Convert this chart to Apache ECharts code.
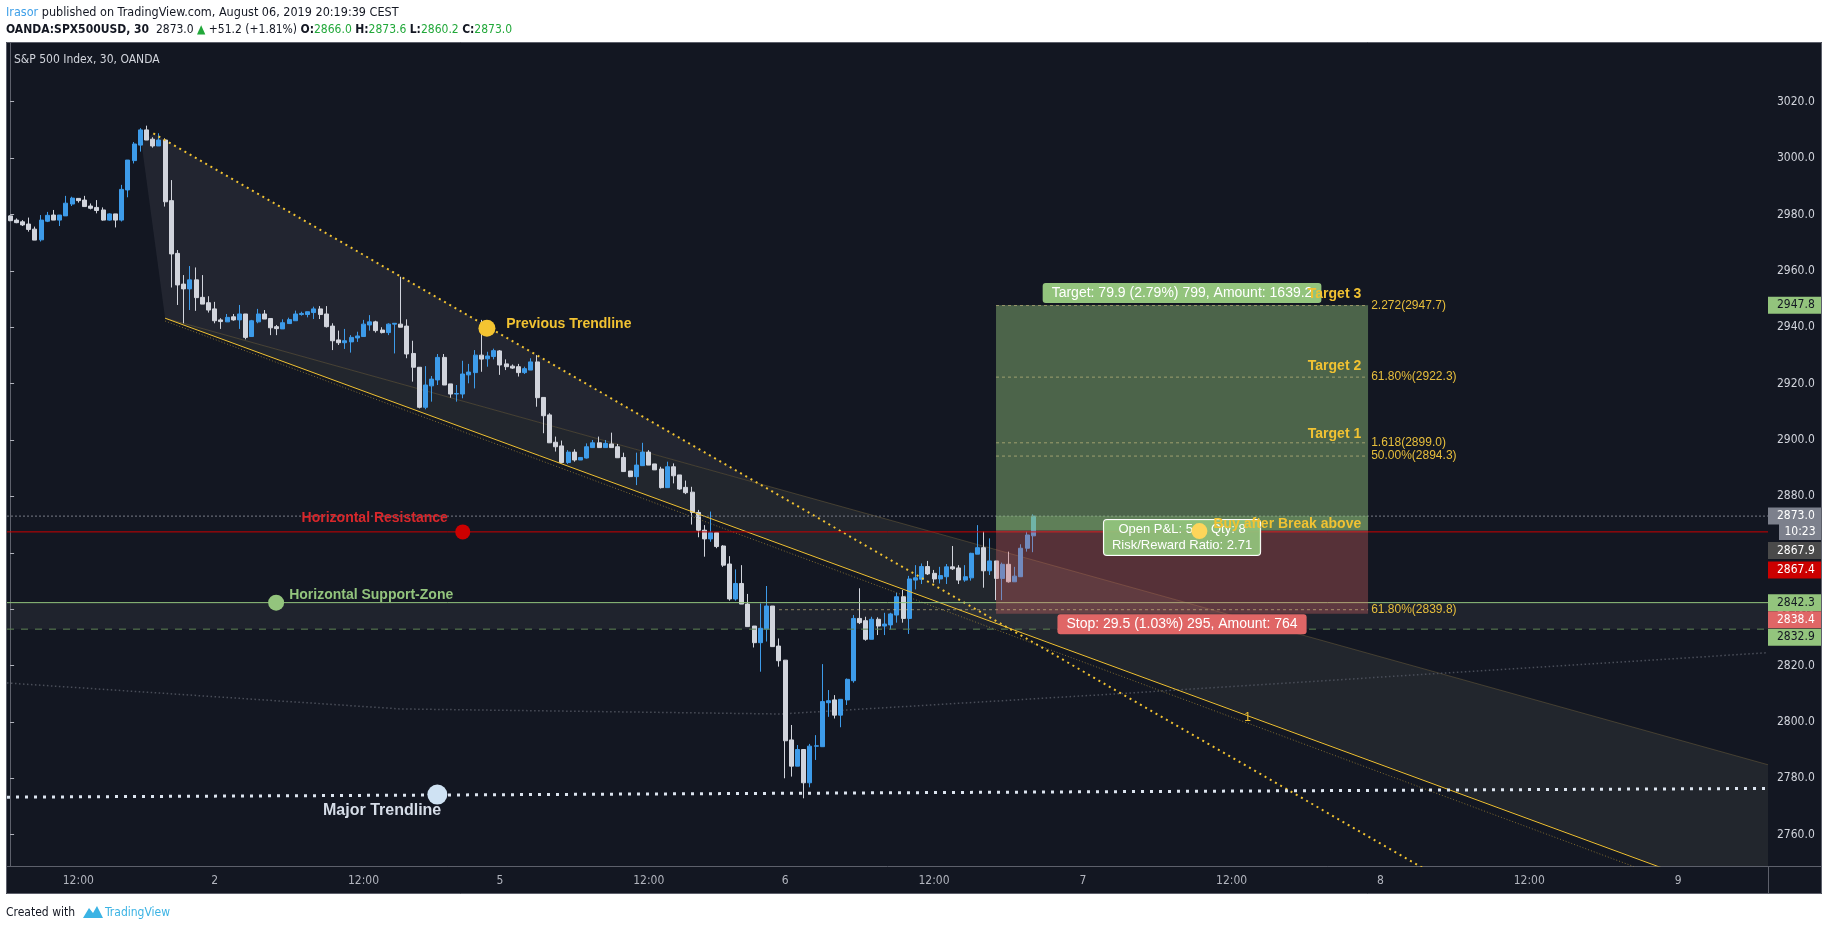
<!DOCTYPE html>
<html>
<head>
<meta charset="utf-8">
<title>S&amp;P 500 Index, 30, OANDA</title>
<script src="https://cdn.jsdelivr.net/npm/echarts/dist/echarts.min.js"></script>
<style>
  html, body { margin: 0; padding: 0; background: #ffffff; }
  #chart { width: 1828px; height: 930px; }
</style>
</head>
<body>
<div id="chart"></div>
<script>
// 30 minute bar slots, first slot = Aug 1 06:30 CEST
const slotCount = 284;
const categories = Array.from({ length: slotCount }, (_, i) => 'slot' + i);
const xTickIdx  = [11, 33, 57, 79, 103, 125, 149, 173, 197, 221, 245, 269];
const xTickText = ['12:00', '2', '12:00', '5', '12:00', '6', '12:00', '7', '12:00', '8', '12:00', '9'];
const yTicks = [2760, 2780, 2800, 2820, 2840, 2860, 2880, 2900, 2920, 2940, 2960, 2980, 3000, 3020];
const yMin = 2748.88, yMax = 3041.18;

// OHLC of the 166 candles
const opens = [
  2979.5, 2978.0, 2977.4, 2976.6, 2974.8, 2971.0, 2977.6, 2979.8, 2978.0, 2979.5,
  2983.7, 2985.7, 2985.1, 2983.0, 2982.5, 2981.6, 2978.0, 2980.2, 2978.0, 2988.7,
  2999.1, 3004.6, 3010.0, 3006.7, 3004.3, 3006.4, 2984.9, 2966.2, 2955.3, 2953.6,
  2956.8, 2950.6, 2948.7, 2946.5, 2942.6, 2941.9, 2943.7, 2942.6, 2944.7, 2936.7,
  2941.9, 2944.7, 2943.1, 2940.2, 2939.4, 2941.3, 2942.3, 2944.5, 2944.5, 2945.2,
  2946.5, 2944.7, 2940.4, 2935.5, 2934.5, 2934.8, 2936.2, 2936.7, 2940.8, 2941.9,
  2939.0, 2938.1, 2941.1, 2941.1, 2940.4, 2930.7, 2925.8, 2911.6, 2919.2, 2921.3,
  2929.3, 2919.9, 2916.3, 2916.3, 2923.1, 2923.9, 2930.1, 2928.8, 2929.6, 2931.6,
  2927.0, 2926.2, 2926.0, 2923.9, 2924.8, 2927.7, 2915.1, 2908.9, 2899.2, 2897.9,
  2892.0, 2895.7, 2892.9, 2893.6, 2897.3, 2899.0, 2897.3, 2898.6, 2897.6, 2893.8,
  2889.0, 2887.0, 2890.9, 2895.7, 2891.5, 2889.7, 2883.1, 2890.5, 2887.6, 2883.2,
  2881.5, 2874.3, 2868.0, 2864.9, 2867.1, 2862.4, 2856.0, 2843.6, 2849.1, 2841.8,
  2834.0, 2828.1, 2832.9, 2841.1, 2826.9, 2821.9, 2793.6, 2784.3, 2790.2, 2778.4,
  2791.4, 2791.2, 2806.8, 2807.8, 2802.4, 2807.8, 2814.6, 2836.7, 2835.9, 2829.3,
  2836.4, 2834.0, 2834.4, 2837.9, 2844.4, 2836.7, 2850.3, 2850.6, 2855.1, 2852.7,
  2850.7, 2851.5, 2855.0, 2854.6, 2850.3, 2851.1, 2859.5, 2861.8, 2853.6, 2857.1,
  2850.9, 2855.9, 2849.7, 2851.5, 2861.6, 2866.0
];
const closes = [
  2977.8, 2977.1, 2976.3, 2974.7, 2970.9, 2978.0, 2979.7, 2978.0, 2979.8, 2984.0,
  2985.8, 2984.9, 2982.8, 2982.2, 2981.4, 2978.0, 2980.2, 2978.0, 2988.9, 2999.3,
  3005.0, 3010.0, 3006.4, 3004.3, 3006.4, 2984.5, 2966.0, 2955.0, 2953.6, 2956.8,
  2950.5, 2948.2, 2946.1, 2942.3, 2942.0, 2943.5, 2942.6, 2944.7, 2936.4, 2942.3,
  2944.7, 2942.9, 2939.8, 2939.5, 2941.6, 2942.7, 2944.7, 2944.9, 2945.5, 2946.5,
  2944.5, 2940.2, 2935.2, 2934.5, 2935.2, 2936.4, 2936.9, 2941.1, 2941.9, 2938.8,
  2938.1, 2941.1, 2941.4, 2940.0, 2930.5, 2925.8, 2911.6, 2919.5, 2921.6, 2929.3,
  2919.5, 2916.3, 2916.5, 2923.4, 2924.1, 2930.1, 2928.7, 2929.8, 2931.7, 2926.6,
  2926.0, 2925.5, 2923.9, 2925.3, 2927.7, 2915.0, 2908.6, 2899.0, 2897.6, 2892.0,
  2895.7, 2892.9, 2893.8, 2897.6, 2899.0, 2897.3, 2898.8, 2897.3, 2893.7, 2888.8,
  2887.0, 2891.1, 2895.7, 2891.1, 2889.4, 2883.1, 2890.5, 2887.3, 2882.6, 2881.3,
  2874.3, 2868.0, 2864.9, 2867.1, 2862.2, 2855.6, 2843.6, 2849.1, 2841.8, 2833.8,
  2828.1, 2833.2, 2841.1, 2826.7, 2821.7, 2793.3, 2784.3, 2790.2, 2778.4, 2791.4,
  2791.5, 2807.2, 2807.5, 2802.4, 2808.0, 2815.1, 2836.7, 2835.2, 2829.3, 2836.4,
  2834.0, 2834.7, 2838.3, 2844.4, 2836.7, 2850.7, 2851.1, 2855.1, 2852.5, 2850.7,
  2851.9, 2855.0, 2854.3, 2850.3, 2851.5, 2859.8, 2861.8, 2853.6, 2857.1, 2850.9,
  2855.9, 2849.7, 2851.7, 2861.6, 2866.3, 2873.0
];
const lows = [
  2977.6, 2976.9, 2975.9, 2973.9, 2970.9, 2970.4, 2977.3, 2978.0, 2975.9, 2979.5,
  2983.0, 2984.2, 2982.8, 2981.8, 2980.4, 2977.8, 2977.8, 2975.4, 2977.5, 2986.1,
  2998.1, 3002.3, 3006.4, 3003.7, 3004.3, 2982.8, 2954.1, 2947.9, 2941.4, 2946.1,
  2945.8, 2948.2, 2945.2, 2941.4, 2939.4, 2941.9, 2942.3, 2939.4, 2935.7, 2936.7,
  2941.4, 2942.9, 2937.2, 2937.2, 2939.4, 2941.3, 2942.3, 2944.1, 2943.5, 2942.9,
  2942.9, 2939.9, 2931.9, 2933.7, 2932.3, 2931.0, 2934.8, 2936.7, 2938.8, 2938.1,
  2937.8, 2937.2, 2930.7, 2940.0, 2929.0, 2920.7, 2911.2, 2910.9, 2913.6, 2919.5,
  2919.5, 2915.0, 2913.6, 2914.8, 2920.1, 2918.3, 2924.2, 2926.0, 2928.6, 2923.1,
  2924.8, 2925.2, 2922.5, 2923.4, 2924.8, 2911.8, 2902.4, 2899.0, 2895.9, 2891.7,
  2891.5, 2892.3, 2892.9, 2893.4, 2897.3, 2897.3, 2897.3, 2897.3, 2893.7, 2888.8,
  2886.8, 2884.0, 2890.9, 2891.1, 2889.4, 2882.8, 2883.1, 2884.6, 2882.3, 2880.8,
  2870.0, 2865.5, 2858.6, 2863.9, 2861.6, 2855.0, 2843.0, 2843.0, 2841.8, 2833.8,
  2826.4, 2817.8, 2828.5, 2826.7, 2819.6, 2780.0, 2780.6, 2784.3, 2772.9, 2776.8,
  2786.5, 2791.2, 2801.8, 2801.2, 2798.1, 2806.0, 2813.9, 2834.7, 2828.8, 2829.3,
  2830.8, 2830.8, 2832.8, 2835.2, 2835.2, 2831.2, 2847.0, 2848.9, 2852.1, 2849.4,
  2849.1, 2848.9, 2853.9, 2848.9, 2849.7, 2850.1, 2859.5, 2847.6, 2852.1, 2843.2,
  2843.2, 2849.4, 2849.7, 2851.5, 2860.4, 2860.2
];
const highs = [
  2979.7, 2978.6, 2978.0, 2978.9, 2975.7, 2979.8, 2980.9, 2981.6, 2979.8, 2986.6,
  2986.3, 2985.7, 2986.6, 2983.9, 2985.1, 2982.5, 2980.4, 2980.2, 2990.5, 2999.3,
  3005.7, 3010.6, 3011.5, 3007.4, 3008.8, 3007.0, 2992.2, 2967.4, 2958.5, 2961.7,
  2961.2, 2958.5, 2951.0, 2949.0, 2943.2, 2944.7, 2944.7, 2947.9, 2944.7, 2942.6,
  2946.5, 2946.1, 2943.1, 2940.8, 2942.8, 2943.4, 2945.9, 2945.5, 2945.5, 2947.3,
  2947.5, 2947.5, 2941.4, 2938.8, 2939.4, 2937.2, 2938.4, 2942.6, 2944.3, 2942.3,
  2940.0, 2941.4, 2941.4, 2957.9, 2942.8, 2935.2, 2925.8, 2926.2, 2922.7, 2930.5,
  2930.5, 2919.9, 2919.5, 2928.1, 2927.0, 2931.9, 2942.6, 2931.3, 2932.4, 2931.9,
  2928.6, 2926.8, 2927.0, 2926.0, 2929.0, 2930.1, 2915.1, 2909.5, 2901.2, 2899.8,
  2896.4, 2896.7, 2893.8, 2898.8, 2900.0, 2901.2, 2900.0, 2902.6, 2898.6, 2895.5,
  2889.0, 2895.5, 2899.0, 2896.4, 2891.5, 2890.5, 2892.3, 2891.7, 2887.6, 2885.6,
  2883.4, 2875.2, 2869.8, 2874.6, 2867.1, 2862.7, 2858.8, 2854.1, 2855.6, 2845.4,
  2834.0, 2842.0, 2848.2, 2841.1, 2829.6, 2821.9, 2798.9, 2791.8, 2790.2, 2792.2,
  2795.3, 2820.5, 2811.3, 2809.5, 2808.0, 2815.4, 2837.9, 2847.4, 2837.3, 2837.3,
  2837.1, 2838.7, 2838.7, 2845.8, 2846.8, 2851.8, 2855.6, 2856.2, 2857.1, 2853.9,
  2855.0, 2856.0, 2862.4, 2855.6, 2855.6, 2860.0, 2869.8, 2867.5, 2865.1, 2857.1,
  2856.5, 2860.4, 2855.0, 2863.0, 2867.5, 2873.6
];

// drawings, as [bar slot, price]
const prevTrendline = [[23.1, 3008.8], [240.3, 2732.3]];
const fanLine = [[25.0, 2943.2], [272.6, 2743.2]];
const fanDotted = [[25.0, 2942.2], [272.6, 2739.9]];
const fanMid = [[25.0, 2943.2], [283.5, 2784.8]];
const arcLine = [[-0.5, 2813.8], [62.9, 2804.6], [124.2, 2802.8], [175.8, 2809.6], [283.2, 2824.5]];
const majorTrend = [[-0.5, 2773.3], [283.5, 2776.4]];
const upperFan = [[21.2, 3005.2], [23.1, 3008.8], [120.6, 2884.7], [25.0, 2943.2]];
const lowerFan = [[25.0, 2943.2], [283.5, 2784.8], [283.5, 2748.9], [265.9, 2748.9]];

const lastPrice = 2873.0;
const resistance = 2867.4;
const supportTop = 2842.3;
const supportBottom = 2832.9;

const posStart = 159, posEnd = 219;
const posEntry = 2867.9, posTarget = 2947.8, posStop = 2838.4;

const fibLevels = [2947.7, 2922.3, 2899.0, 2894.3, 2839.8];
const fibText = ['2.272(2947.7)', '61.80%(2922.3)', '1.618(2899.0)', '50.00%(2894.3)', '61.80%(2839.8)'];
const fibStart = [159, 159, 159, 159, 124];

const dotAt = [[76.9, 2939.6], [73.0, 2867.4], [42.9, 2842.3], [68.9, 2774.2], [191.8, 2867.7]];
const noteText = ['Previous Trendline', 'Horizontal Resistance', 'Horizontal Support-Zone', 'Major Trendline',
  'Target 3', 'Target 2', 'Target 1', 'Buy after Break above', '1'];
const noteAt = [[80.0, 2941.0], [70.6, 2872.1], [45.0, 2844.8], [60.0, 2768.4],
  [217.9, 2951.7], [217.9, 2926.3], [217.9, 2902.2], [217.9, 2870.3], [200.1, 2801.6]];
const boxText = ['Target: 79.9 (2.79%) 799, Amount: 1639.2', 'Stop: 29.5 (1.03%) 295, Amount: 764',
  'Open P&L: 5.1, Qty: 8\nRisk/Reward Ratio: 2.71'];
const boxAt = [[189, 2952.1], [189, 2834.6], [189, 2865.4]];

const tagValue = [2947.8, 2873.0, 2867.9, 2867.4, 2842.3, 2838.4, 2832.9];
const countdown = '10:23';

const SANS = '"Liberation Sans", Arial, sans-serif';
const NARROW = '"Liberation Sans Narrow", "DejaVu Sans Condensed", "Liberation Sans", sans-serif';
const UP = '#3d9be9', DOWN = '#d1d4dc';

const candles = opens.map((o, i) => [o, closes[i], lows[i], highs[i]]);

function lineSeries(data, style, z) {
  return {
    type: 'line', xAxisIndex: 1, yAxisIndex: 0, data: data, symbol: 'none',
    silent: true, z: z || 4, lineStyle: style, animation: false
  };
}
function hLine(price, style, z) {
  return lineSeries([[-0.5, price], [slotCount - 0.5, price]], style, z);
}
function polySeries(shapes, z) {
  return {
    type: 'custom', xAxisIndex: 1, yAxisIndex: 0, data: [[100, 2900]], silent: true, z: z,
    renderItem: function (params, api) {
      return {
        type: 'group',
        children: shapes.map(s => ({
          type: 'polygon',
          shape: { points: s.points.map(p => api.coord(p)) },
          style: { fill: s.fill }
        }))
      };
    }
  };
}

const fibSeries = fibLevels.map((p, i) => lineSeries([[fibStart[i], p], [posEnd, p]],
  { color: 'rgba(226,208,140,0.55)', width: 1, type: [3, 3] }, 6));

const notesSeries = {
  type: 'custom', xAxisIndex: 1, yAxisIndex: 0, data: [[100, 2900]], silent: true, z: 8,
  renderItem: function (params, api) {
    const cs = params.coordSys;
    const right = cs.x + cs.width;
    const kids = [];
    // fib level labels
    fibLevels.forEach((p, i) => {
      const pt = api.coord([posEnd + 0.5, p]);
      kids.push({ type: 'text', x: pt[0], y: pt[1], style: {
        text: fibText[i], fill: '#e8bf3c', font: '12px ' + SANS, align: 'left', verticalAlign: 'middle' } });
    });
    // label boxes of the long position
    const boxBg = ['#93c47d', '#e06666', 'rgba(147,196,125,0.92)'];
    const boxFont = ['14px', '14px', '13px'];
    boxText.forEach((t, i) => {
      const pt = api.coord(boxAt[i]);
      kids.push({ type: 'text', x: pt[0], y: pt[1], style: {
        text: t, fill: '#ffffff', font: boxFont[i] + ' ' + SANS, align: 'center', verticalAlign: 'middle',
        backgroundColor: boxBg[i], padding: i === 2 ? [2, 8, 1, 8] : [2, 9, 2, 9], borderRadius: 3,
        borderColor: i === 2 ? '#ffffff' : null, borderWidth: i === 2 ? 1 : 0, lineHeight: 16 } });
    });
    // dots
    const dotColor = ['#f4c431', '#cc0000', '#93c47d', '#cfe2f3', '#fdd55a'];
    const dotR = [8.5, 7.5, 8, 10, 8];
    dotAt.forEach((p, i) => {
      const pt = api.coord(p);
      kids.push({ type: 'circle', shape: { cx: pt[0], cy: pt[1], r: dotR[i] }, style: { fill: dotColor[i] } });
    });
    // annotation texts
    const noteColor = ['#f1c232', '#d9272b', '#93c47d', '#d6dde8', '#f1c232', '#f1c232', '#f1c232', '#f1c232', '#f1c232'];
    const noteAlign = ['left', 'right', 'left', 'center', 'right', 'right', 'right', 'right', 'right'];
    const noteFont = ['bold 14px', 'bold 14px', 'bold 14px', 'bold 16px', 'bold 14px', 'bold 14px', 'bold 14px', 'bold 14px', '12px'];
    noteText.forEach((t, i) => {
      const pt = api.coord(noteAt[i]);
      kids.push({ type: 'text', x: pt[0], y: pt[1], style: {
        text: t, fill: noteColor[i], font: noteFont[i] + ' ' + SANS, align: noteAlign[i], verticalAlign: 'middle' } });
    });
    // price tags on the price scale
    const tagBg = ['#93c47d', '#7c808c', '#4a4a4a', '#cc0000', '#93c47d', '#e06666', '#93c47d'];
    const tagFg = ['#131722', '#ffffff', '#ffffff', '#ffffff', '#131722', '#ffffff', '#131722'];
    const tagShift = [0, 0, 20, 38, 0, 6, 8];
    tagValue.forEach((v, i) => {
      const y = api.coord([0, v])[1] + tagShift[i];
      kids.push({ type: 'rect', shape: { x: right, y: y - 8.5, width: 53, height: 17 }, style: { fill: tagBg[i] } });
      kids.push({ type: 'text', x: right + 9, y: y, style: {
        text: v.toFixed(1), fill: tagFg[i], font: '12px ' + NARROW, align: 'left', verticalAlign: 'middle' } });
    });
    const cy = api.coord([0, lastPrice])[1] + 16;
    kids.push({ type: 'rect', shape: { x: right + 11, y: cy - 8, width: 42, height: 16 }, style: { fill: '#7c808c' } });
    kids.push({ type: 'text', x: right + 32, y: cy, style: {
      text: countdown, fill: '#ffffff', font: '12px ' + NARROW, align: 'center', verticalAlign: 'middle' } });
    return { type: 'group', children: kids };
  }
};

const positionSeries = {
  type: 'custom', xAxisIndex: 1, yAxisIndex: 0, data: [[100, 2900]], silent: true, z: 5,
  renderItem: function (params, api) {
    const rect = (y1, y2, fill) => {
      const a = api.coord([posStart, y1]), b = api.coord([posEnd, y2]);
      return { type: 'rect', shape: { x: a[0], y: a[1], width: b[0] - a[0], height: b[1] - a[1] }, style: { fill: fill } };
    };
    return { type: 'group', children: [
      rect(posTarget, posEntry, 'rgba(147,196,125,0.45)'),
      rect(lastPrice, posEntry, 'rgba(147,196,125,0.28)'),
      rect(posEntry, posStop, 'rgba(224,102,102,0.33)')
    ] };
  }
};

const chart = echarts.init(document.getElementById('chart'));
chart.setOption({
  animation: false,
  backgroundColor: '#131722',
  grid: { left: 7, top: 42, width: 1761, height: 824 },
  xAxis: [{
    type: 'category', data: categories, boundaryGap: true, gridIndex: 0,
    axisLine: { lineStyle: { color: '#5d606b' } },
    axisTick: { interval: i => xTickIdx.includes(i), alignWithLabel: true, length: 4, lineStyle: { color: '#787b86' } },
    axisLabel: {
      interval: i => xTickIdx.includes(i),
      formatter: (v, i) => xTickText[xTickIdx.indexOf(i)],
      color: '#b2b5be', fontSize: 12, fontFamily: NARROW, margin: 9
    },
    splitLine: { show: false }
  }, {
    type: 'value', gridIndex: 0, min: -0.5, max: slotCount - 0.5, show: false
  }],
  yAxis: {
    type: 'value', position: 'right', min: yMin, max: yMax,
    axisLine: { show: true, lineStyle: { color: '#5d606b' } },
    axisTick: { show: true, length: 4, customValues: yTicks, lineStyle: { color: '#b2b5be' } },
    axisLabel: { customValues: yTicks, formatter: v => v.toFixed(1), color: '#d1d4dc', fontSize: 12, fontFamily: NARROW, margin: 9 },
    splitLine: { show: false }
  },
  series: [
    polySeries([
      { points: upperFan, fill: 'rgba(120,123,134,0.15)' },
      { points: lowerFan, fill: 'rgba(150,145,135,0.12)' },
      { points: [[-0.5, supportTop], [slotCount - 0.5, supportTop], [slotCount - 0.5, supportBottom], [-0.5, supportBottom]],
        fill: 'rgba(120,123,134,0.12)' }
    ], 1),
    lineSeries(fanMid, { color: 'rgba(150,125,70,0.35)', width: 1 }, 2),
    lineSeries(arcLine, { color: '#4a4e59', width: 1.5, type: [1.5, 2.5] }, 2),
    {
      type: 'candlestick', xAxisIndex: 0, yAxisIndex: 0, data: candles, barWidth: 4.5, z: 3, silent: true,
      itemStyle: { color: UP, color0: DOWN, borderColor: UP, borderColor0: DOWN, borderWidth: 1 }
    },
    lineSeries(fanDotted, { color: 'rgba(200,165,60,0.6)', width: 1, type: [1, 2] }, 4),
    lineSeries(fanLine, { color: '#f1c232', width: 1 }, 4),
    lineSeries(prevTrendline, { color: '#f1c232', width: 2, type: [2, 4] }, 4),
    lineSeries(majorTrend, { color: '#dce4ef', width: 3, type: [3, 6] }, 4),
    hLine(lastPrice, { color: '#787b86', width: 1, type: [2, 2] }, 4),
    hLine(resistance, { color: '#cc0000', width: 1 }, 4),
    hLine(supportTop, { color: '#93c47d', width: 1 }, 4),
    hLine(supportBottom, { color: '#5f8453', width: 1, type: [7, 7] }, 4),
    positionSeries
  ].concat(fibSeries, [notesSeries]),
  graphic: [
    { type: 'rect', shape: { x: 0, y: 0, width: 1828, height: 42 }, style: { fill: '#ffffff' }, z: 100, silent: true },
    { type: 'rect', shape: { x: 0, y: 894, width: 1828, height: 36 }, style: { fill: '#ffffff' }, z: 100, silent: true },
    { type: 'rect', shape: { x: 0, y: 0, width: 6, height: 930 }, style: { fill: '#ffffff' }, z: 100, silent: true },
    { type: 'rect', shape: { x: 1822, y: 0, width: 6, height: 930 }, style: { fill: '#ffffff' }, z: 100, silent: true },
    { type: 'rect', shape: { x: 6.5, y: 42.5, width: 1815, height: 851 }, style: { fill: null, stroke: '#5d606b', lineWidth: 1 }, z: 100, silent: true },
    { type: 'line', shape: { x1: 1768.5, y1: 866, x2: 1768.5, y2: 894 }, style: { stroke: '#5d606b', lineWidth: 1 }, z: 100, silent: true },
    { type: 'line', shape: { x1: 1768, y1: 866.5, x2: 1822, y2: 866.5 }, style: { stroke: '#5d606b', lineWidth: 1 }, z: 100, silent: true },
    {
      type: 'text', x: 6, y: 13, z: 101, silent: true,
      style: {
        text: '{u|Irasor} published on TradingView.com, August 06, 2019 20:19:39 CEST',
        fill: '#131722', font: '12.5px ' + NARROW, verticalAlign: 'middle',
        rich: { u: { fill: '#3fa0e8', fontSize: 12.5, fontFamily: NARROW } }
      }
    },
    {
      type: 'text', x: 6, y: 30, z: 101, silent: true,
      style: {
        text: '{b|OANDA:SPX500USD, 30}  2873.0 {g|\u25B2} +51.2 (+1.81%) {b|O:}{g|2866.0} {b|H:}{g|2873.6} {b|L:}{g|2860.2} {b|C:}{g|2873.0}',
        fill: '#131722', font: '12px ' + NARROW, verticalAlign: 'middle',
        rich: {
          b: { fontWeight: 'bold', fontSize: 12, fontFamily: NARROW, fill: '#131722' },
          g: { fontSize: 12, fontFamily: NARROW, fill: '#22a83a' }
        }
      }
    },
    {
      type: 'text', x: 14, y: 60, z: 101, silent: true,
      style: { text: 'S&P 500 Index, 30, OANDA', fill: '#d1d4dc', font: '12px ' + NARROW, verticalAlign: 'middle' }
    },
    {
      type: 'text', x: 6, y: 913, z: 101, silent: true,
      style: { text: 'Created with', fill: '#131722', font: '12px ' + NARROW, verticalAlign: 'middle' }
    },
    {
      type: 'polygon', z: 101, silent: true,
      shape: { points: [[83, 918], [89, 908], [93, 913], [97, 906], [103, 918]] },
      style: { fill: '#3bb3e4' }
    },
    {
      type: 'text', x: 105, y: 913, z: 101, silent: true,
      style: { text: 'TradingView', fill: '#3bb3e4', font: '12px ' + NARROW, verticalAlign: 'middle' }
    }
  ]
});
</script>
</body>
</html>
